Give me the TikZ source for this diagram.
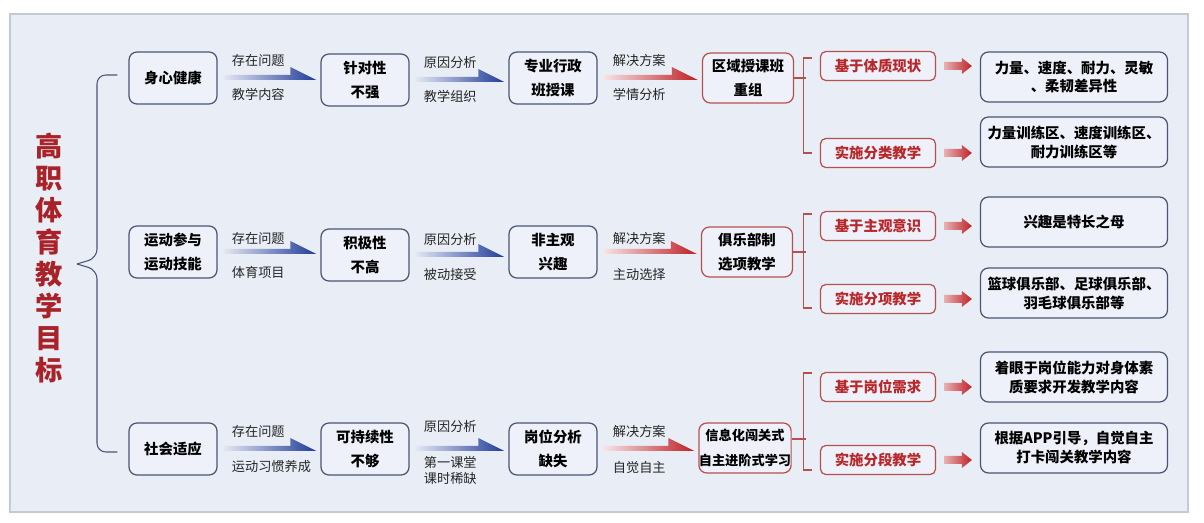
\documentclass[tikz,border=0pt]{standalone}
\usepackage{fontspec}
\setmainfont{Noto Sans CJK SC}
\usetikzlibrary{calc}

\definecolor{panelbg}{HTML}{E9EDF6}
\definecolor{panelline}{HTML}{C4C9D4}
\definecolor{boxline}{HTML}{4B5574}
\definecolor{boxfill}{HTML}{EEF1F9}
\definecolor{redline}{HTML}{B5504C}
\definecolor{tagred}{HTML}{B8282A}
\definecolor{titlered}{HTML}{A82228}
\definecolor{flowblue}{HTML}{1F3C98}
\definecolor{flowred}{HTML}{BE2026}

\newcommand{\flowarrow}[3]{%
  \shade[left color=#1!12, right color=#1]
    ($(#2.east)+(6,-3)$) -- ($(#3.west |- #2.east)+(-30,-3)$) -- ($(#3.west |- #2.east)+(-30,-11)$)
    -- ($(#3.west |- #2.east)+(-4,2)$) -- ($(#2.east)+(6,2)$) -- cycle;}
\newcommand{\blockarrow}[2]{%
  \shade[left color=flowred!35, right color=flowred]
    ($(#1.east)+(8,-4)$) -- ($(#2.west |- #1.east)+(-18,-4)$) -- ($(#2.west |- #1.east)+(-18,-8)$)
    -- ($(#2.west |- #1.east)+(-8,0)$) -- ($(#2.west |- #1.east)+(-18,8)$)
    -- ($(#2.west |- #1.east)+(-18,4)$) -- ($(#1.east)+(8,4)$) -- cycle;}

\begin{document}
\begin{tikzpicture}[x=0.02cm, y=-0.02cm,
  every node/.style={inner sep=0pt},
  box/.style={draw=boxline, fill=boxfill, line width=0.7pt, rounded corners=4.5pt,
    minimum width=1.76cm, minimum height=1.04cm, align=center,
    font=\fontsize{8.2}{13.4}\selectfont\bfseries},
  planbox/.style={box, draw=redline, minimum width=1.82cm, minimum height=1cm},
  tagbox/.style={draw=redline, fill=boxfill, line width=0.7pt, rounded corners=3pt,
    minimum width=2.3cm, minimum height=0.58cm, text=tagred,
    font=\fontsize{8.2}{10}\selectfont\bfseries},
  resultbox/.style={box, minimum width=3.74cm, minimum height=1cm,
    font=\fontsize{8.2}{10.8}\selectfont\bfseries},
  note/.style={font=\fontsize{7.5}{9}\selectfont, text=black!85, align=center},
  brace/.style={draw=boxline, line width=0.6pt, rounded corners=5},
  bracket/.style={draw=redline, line width=0.6pt}]
\useasboundingbox (0,0) rectangle (1204,523);
\draw[panelline, fill=panelbg, line width=0.8pt] (10,14) rectangle (1188,512);

\node[font=\fontsize{15.5}{18.2}\selectfont\bfseries, text=titlered, align=center] (goal) at (49,258)
  {高\\职\\体\\育\\教\\学\\目\\标};
\coordinate (tip) at (77,264);

\node[box] (health) at (173,78) {身心健康};
\node[box] (aim1) at (365,80) {针对性\\不强};
\node[box] (cause1) at (553,78) {专业行政\\班授课};
\node[planbox] (plan1) at (748,78) {区域授课班\\重组};
\node[tagbox] (basis1) at (878,66) {基于体质现状};
\node[tagbox] (method1) at (878,153) {实施分类教学};
\node[resultbox] (res1a) at (1074,77) {力量、速度、耐力、灵敏\\、柔韧差异性};
\node[resultbox] (res1b) at (1074,142) {力量训练区、速度训练区、\\耐力训练区等};

\node[box] (sport) at (173,252) {运动参与\\运动技能};
\node[box] (aim2) at (365,255) {积极性\\不高};
\node[box] (cause2) at (553,252) {非主观\\兴趣};
\node[planbox] (plan2) at (747,252) {俱乐部制\\选项教学};
\node[tagbox] (basis2) at (878,226) {基于主观意识};
\node[tagbox] (method2) at (878,299) {实施分项教学};
\node[resultbox] (res2a) at (1074,222) {兴趣是特长之母};
\node[resultbox] (res2b) at (1074,293) {篮球俱乐部、足球俱乐部、\\羽毛球俱乐部等};

\node[box] (social) at (173,449) {社会适应};
\node[box] (aim3) at (365,449) {可持续性\\不够};
\node[box] (cause3) at (553,449) {岗位分析\\缺失};
\node[planbox, font=\fontsize{7.5}{14}\selectfont\bfseries] (plan3) at (745,448) {信息化闯关式\\自主进阶式学习};
\node[tagbox] (basis3) at (878,387) {基于岗位需求};
\node[tagbox] (method3) at (878,460) {实施分段教学};
\node[resultbox] (res3a) at (1074,377) {着眼于岗位能力对身体素\\质要求开发教学内容};
\node[resultbox] (res3b) at (1074,448) {根据APP引导，自觉自主\\打卡闯关教学内容};

\draw[brace] ($(health.west)+(-11,-3)$) -| ($(tip)+(20,-6)$) -- (tip);
\draw[brace] ($(social.west)+(-11,3)$) -| ($(tip)+(20,6)$) -- (tip);

\flowarrow{flowblue}{health}{aim1}
\flowarrow{flowblue}{aim1}{cause1}
\flowarrow{flowred}{cause1}{plan1}
\flowarrow{flowblue}{sport}{aim2}
\flowarrow{flowblue}{aim2}{cause2}
\flowarrow{flowred}{cause2}{plan2}
\flowarrow{flowblue}{social}{aim3}
\flowarrow{flowblue}{aim3}{cause3}
\flowarrow{flowred}{cause3}{plan3}

\node[note, anchor=south west] (ask1) at ($(health.east)+(14,-11)$) {存在问题};
\node[note, anchor=north west] (ask1b) at ($(health.east)+(14,10)$) {教学内容};
\node[note, anchor=south west] (why1) at ($(aim1.east)+(14,-11)$) {原因分析};
\node[note, anchor=north west] (why1b) at ($(aim1.east)+(14,10)$) {教学组织};
\node[note, anchor=south west] (fix1) at ($(cause1.east)+(15,-11)$) {解决方案};
\node[note, anchor=north west] (fix1b) at ($(cause1.east)+(15,10)$) {学情分析};
\node[note, anchor=south west] (ask2) at ($(sport.east)+(14,-7)$) {存在问题};
\node[note, anchor=north west] (ask2b) at ($(sport.east)+(14,14)$) {体育项目};
\node[note, anchor=south west] (why2) at ($(aim2.east)+(14,-9)$) {原因分析};
\node[note, anchor=north west] (why2b) at ($(aim2.east)+(14,13)$) {被动接受};
\node[note, anchor=south west] (fix2) at ($(cause2.east)+(15,-7)$) {解决方案};
\node[note, anchor=north west] (fix2b) at ($(cause2.east)+(15,16)$) {主动选择};
\node[note, anchor=south west] (ask3) at ($(social.east)+(14,-11)$) {存在问题};
\node[note, anchor=north west] (ask3b) at ($(social.east)+(14,11)$) {运动习惯养成};
\node[note, anchor=south west] (why3) at ($(aim3.east)+(14,-16)$) {原因分析};
\node[note, anchor=north west] (why3b) at ($(aim3.east)+(14,7)$) {第一课堂\\课时稀缺};
\node[note, anchor=south west] (fix3) at ($(cause3.east)+(15,-11)$) {解决方案};
\node[note, anchor=north west] (fix3b) at ($(cause3.east)+(15,12)$) {自觉自主};

\draw[bracket] (plan1.east) -- ++(12,0);
\draw[bracket] ($(basis1.west)+(-8,-8)$) -- ++(-8,0) |- ($(method1.west)+(-8,0)$);
\draw[bracket] (plan2.east) -- ++(13,0);
\draw[bracket] ($(basis2.west)+(-8,-12)$) -- ++(-8,0) |- ($(method2.west)+(-8,9)$);
\draw[bracket] ($(plan3.east)+(0,-9)$) -- ++(14,0);
\draw[bracket] ($(basis3.west)+(-8,-14)$) -- ++(-8,0) |- ($(method3.west)+(-8,10)$);

\blockarrow{basis1}{res1a}
\blockarrow{method1}{res1b}
\blockarrow{basis2}{res2a}
\blockarrow{method2}{res2b}
\blockarrow{basis3}{res3a}
\blockarrow{method3}{res3b}
\end{tikzpicture}
\end{document}
